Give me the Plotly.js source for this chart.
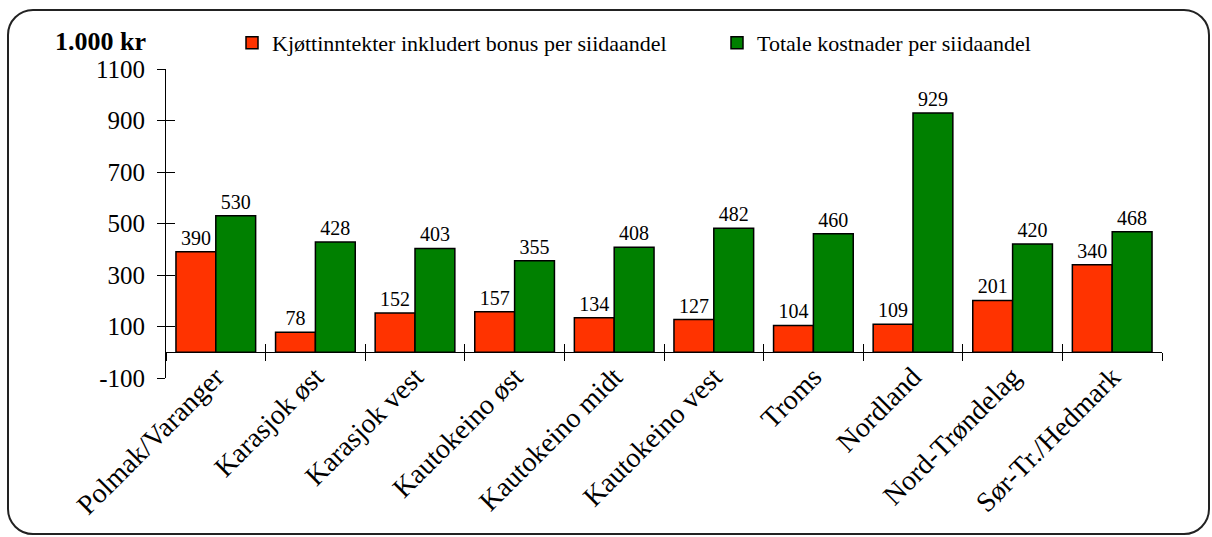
<!DOCTYPE html>
<html><head><meta charset="utf-8">
<script src="https://cdn.plot.ly/plotly-3.0.1.min.js"></script>
<style>
html,body{margin:0;padding:0;background:#fff;}
#chart{position:absolute;left:0;top:0;width:1212px;height:537px;}
#frame{position:absolute;left:7px;top:9px;width:1203px;height:526px;border:2px solid #222;border-radius:26px;pointer-events:none;box-sizing:border-box;}
</style></head><body>
<div id="chart"></div><div id="frame"></div>
<script>
const categories = ['Polmak/Varanger','Karasjok øst','Karasjok vest','Kautokeino øst','Kautokeino midt','Kautokeino vest','Troms','Nordland','Nord-Trøndelag','Sør-Tr./Hedmark'];
const incomeValues = [390, 78, 152, 157, 134, 127, 104, 109, 201, 340];
const costValues = [530, 428, 403, 355, 408, 482, 460, 929, 420, 468];
const seriesNames = ['Kjøttinntekter inkludert bonus per siidaandel', 'Totale kostnader per siidaandel'];
const unitLabel = '1.000 kr';
const yTickValues = [-100, 100, 300, 500, 700, 900, 1100];
const yTickLabels = ['-100', '100', '300', '500', '700', '900', '1100'];

const FONT = 'Liberation Serif, Times New Roman, serif';
const yRange = [yTickValues[0], yTickValues[yTickValues.length - 1]];
const boundaries = [-0.5].concat(categories.map((_, i) => i + 0.5));
const zeroPos = (0 - yRange[0]) / (yRange[1] - yRange[0]);

const barCommon = {
  type: 'bar', x: categories,
  textposition: 'outside', texttemplate: '%{y}', cliponaxis: false, constraintext: 'none',
  textfont: {family: FONT, size: 20, color: '#000'},
  hoverinfo: 'skip'
};
const data = [
  Object.assign({}, barCommon, {name: seriesNames[0], y: incomeValues, marker: {color: '#FF3300', line: {color: '#000', width: 1.5}}}),
  Object.assign({}, barCommon, {name: seriesNames[1], y: costValues, marker: {color: '#008000', line: {color: '#000', width: 1.5}}}),
  {type: 'scatter', x: [], y: [], xaxis: 'x2', yaxis: 'y', showlegend: false, hoverinfo: 'skip'},
  {type: 'scatter', x: [], y: [], xaxis: 'x3', yaxis: 'y', showlegend: false, hoverinfo: 'skip'},
  {type: 'scatter', x: [], y: [], xaxis: 'x', yaxis: 'y2', showlegend: false, hoverinfo: 'skip'}
];

const layout = {
  width: 1212, height: 537,
  margin: {l: 166, r: 50, t: 69, b: 159, autoexpand: false},
  paper_bgcolor: 'rgba(0,0,0,0)', plot_bgcolor: 'rgba(0,0,0,0)',
  font: {family: FONT, color: '#000'},
  barmode: 'group', bargap: 0.2, bargroupgap: 0,
  showlegend: true,
  title: {text: '<b>' + unitLabel + '</b>', x: 55 / 1212, xanchor: 'left', xref: 'container', y: 1 - 41 / 537, yanchor: 'middle', yref: 'container', font: {family: FONT, size: 26, color: '#000'}},
  legend: {orientation: 'h', xref: 'container', yref: 'container', x: 232 / 1212, xanchor: 'left', y: 1 - 22 / 537, yanchor: 'top',
    font: {family: FONT, size: 22, color: '#000'}, entrywidth: 440, entrywidthmode: 'pixels', bgcolor: 'rgba(0,0,0,0)', borderwidth: 0, traceorder: 'normal'},
  xaxis: {type: 'category', showline: false, ticks: '', showgrid: false, zeroline: false, ticklabelstandoff: -24,
    tickangle: -45, tickfont: {family: FONT, size: 28, color: '#000'}, range: [-0.5, categories.length - 0.5], fixedrange: true},
  xaxis2: {overlaying: 'x', anchor: 'free', position: zeroPos, type: 'linear', range: [-0.5, categories.length - 0.5],
    showline: true, linecolor: '#000', linewidth: 1, ticks: 'outside', ticklen: 8, tickcolor: '#000', tickwidth: 1,
    tickmode: 'array', tickvals: boundaries, showticklabels: false, showgrid: false, zeroline: false},
  xaxis3: {overlaying: 'x', anchor: 'free', position: zeroPos, type: 'linear', range: [-0.5, categories.length - 0.5],
    showline: false, ticks: 'inside', ticklen: 8, tickcolor: '#000', tickwidth: 1,
    tickmode: 'array', tickvals: boundaries, showticklabels: false, showgrid: false, zeroline: false},
  yaxis: {range: yRange, tickmode: 'array', tickvals: yTickValues, ticktext: yTickLabels, showline: true, linecolor: '#000', linewidth: 1,
    ticks: 'outside', ticklen: 8, tickcolor: '#000', tickwidth: 1, showgrid: false, zeroline: false,
    tickfont: {family: FONT, size: 25, color: '#000'}, ticklabelstandoff: 7},
  yaxis2: {overlaying: 'y', anchor: 'x', side: 'left', range: yRange, tickmode: 'array', tickvals: yTickValues,
    showline: false, ticks: 'inside', ticklen: 9, tickcolor: '#000', tickwidth: 1, showticklabels: false, showgrid: false, zeroline: false}
};

Plotly.newPlot('chart', data, layout, {displayModeBar: false, staticPlot: true});
</script></body></html>
